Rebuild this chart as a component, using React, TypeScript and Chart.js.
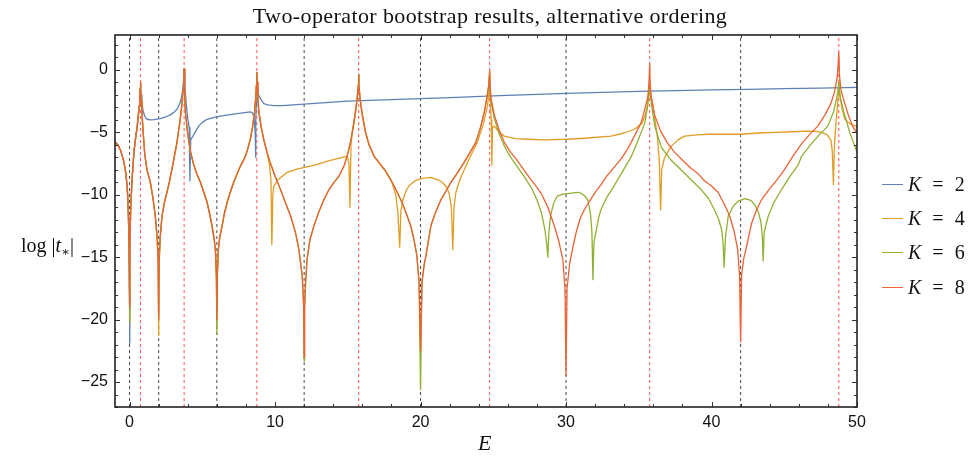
import { useEffect, useRef } from "react";
import { Chart, registerables } from "chart.js";

Chart.register(...registerables);

type P = [number, number];

// ---------- axis settings ----------
const xMin = -1;
const xMax = 50;
const yMin = -27;
const yMax = 2.8;
const xTicks = [0, 10, 20, 30, 40, 50];
const xMinorTicks = [2, 4, 6, 8, 12, 14, 16, 18, 22, 24, 26, 28, 32, 34, 36, 38, 42, 44, 46, 48];
const yTicks = [-25, -20, -15, -10, -5, 0];
const yMinorTicks = [-27, -26, -24, -23, -22, -21, -19, -18, -17, -16, -14, -13, -12, -11, -9, -8, -7, -6, -4, -3, -2, -1, 1, 2];

// vertical reference lines
const zeroLines = [0, 2, 6, 12, 20, 30, 42];
const poleLines = [0.75, 3.75, 8.75, 15.75, 24.75, 35.75, 48.75];

// ---------- legend ----------
const seriesNames = ["2", "4", "6", "8"];
const seriesColors = ["#5E81B5", "#E19C24", "#8FB032", "#EB6235"];

// ---------- shared curve pieces (all K overlap here) ----------
const segA: P[] = [[-1, -5.8], [-0.8, -6.0], [-0.6, -6.5], [-0.4, -7.3], [-0.25, -8.3], [-0.15, -9.6], [-0.08, -11.5], [-0.03, -14.5]];
const segB: P[] = [[0.03, -14.5], [0.08, -11.0], [0.17, -8.8], [0.3, -6.6], [0.42, -5.4], [0.51, -4.7], [0.6, -3.7], [0.66, -2.9], [0.7, -2.1], [0.73, -1.5], [0.75, -1.0]];
const segC: P[] = [[0.77, -1.6], [0.8, -2.5], [0.85, -3.4], [0.96, -5.4], [1.05, -6.8], [1.2, -8.0], [1.43, -9.0], [1.6, -10.2], [1.77, -11.7], [1.9, -13.5], [1.97, -15.5]];
const segD: P[] = [[2.03, -15.5], [2.1, -13.5], [2.23, -11.7], [2.4, -10.6], [2.57, -9.8], [2.75, -8.9], [2.92, -7.9], [3.1, -6.8], [3.26, -5.8], [3.38, -4.8], [3.5, -3.8], [3.61, -2.6], [3.68, -1.6], [3.73, -0.6], [3.75, 0.1]];
const segE: P[] = [[3.77, -0.8], [3.8, -2.0], [3.84, -3.4], [3.95, -4.6], [4.06, -5.6], [4.2, -6.6], [4.41, -7.6], [4.65, -8.4], [4.87, -9.0], [5.1, -9.8], [5.33, -10.6], [5.5, -11.5], [5.67, -12.5], [5.82, -13.6], [5.9, -14.4], [5.97, -16.5]];
const segF: P[] = [[6.03, -16.5], [6.1, -14.4], [6.2, -13.4], [6.36, -12.5], [6.5, -11.6], [6.71, -10.6], [6.95, -9.7], [7.16, -9.0], [7.4, -8.3], [7.62, -7.7], [7.85, -7.2], [8.0, -6.8], [8.15, -6.2], [8.31, -5.5], [8.45, -4.6], [8.59, -3.4], [8.67, -2.3], [8.72, -1.2], [8.75, -0.2]];
const segG: P[] = [[8.77, -1.0], [8.82, -2.3], [8.89, -3.4], [9.05, -4.6], [9.23, -5.6], [9.45, -6.6], [9.69, -7.5], [10.0, -8.5], [10.38, -9.6], [10.7, -10.6], [11.07, -11.7], [11.4, -13.0], [11.64, -14.4], [11.87, -16.5], [11.97, -19]];
const segH: P[] = [[12.03, -19], [12.1, -17], [12.2, -15.2], [12.4, -13.6], [12.67, -12.5], [13.0, -11.4], [13.36, -10.4], [13.7, -9.6], [14.05, -9.0], [14.4, -8.5], [14.74, -7.7], [15.0, -6.7], [15.2, -5.7], [15.43, -4.2], [15.57, -3.0], [15.66, -2.1], [15.72, -1.3], [15.75, -0.35]];
const segI: P[] = [[15.77, -1.2], [15.85, -2.4], [16.0, -3.6], [16.2, -4.9], [16.46, -6.0], [16.8, -6.9], [17.2, -7.5], [17.6, -8.1], [18.0, -8.9], [18.4, -9.8], [18.76, -10.7], [19.05, -11.6], [19.33, -12.5], [19.55, -13.6], [19.75, -14.9], [19.9, -17]];
const segJ: P[] = [[20.1, -17], [20.25, -15.6], [20.37, -14.9], [20.71, -12.5], [21.0, -11.5], [21.4, -10.4], [21.75, -9.7], [22.09, -9.0], [22.5, -8.3], [23.0, -7.4], [23.4, -6.6], [23.8, -5.8], [24.1, -4.7], [24.38, -3.4], [24.55, -2.3], [24.68, -1.3], [24.75, -0.1]];

// ---------- K = 8 ----------
const k8Tail: P[] = [
  [24.78, -1.2], [24.85, -2.3], [25.07, -3.6], [25.4, -4.8], [25.76, -5.8], [26.2, -6.6], [26.68, -7.3], [27.1, -8.0], [27.6, -8.8], [28.0, -9.4], [28.3, -9.9], [28.75, -11.0], [29.2, -12.5], [29.5, -13.7], [29.78, -15.2], [29.93, -17.5], [30.0, -24.5],
  [30.07, -17.5], [30.25, -15.5], [30.47, -14.2], [30.7, -13.0], [31.0, -11.8], [31.4, -10.9], [31.73, -10.3], [32.0, -9.8], [32.4, -9.2], [32.8, -8.5], [33.3, -7.8], [33.8, -7.1], [34.25, -6.3], [34.7, -5.3], [35.17, -4.2], [35.45, -3.0], [35.63, -2.1], [35.7, -1.0], [35.75, 0.5],
  [35.78, -1.0], [35.85, -2.2], [36.09, -3.6], [36.5, -4.9], [37.0, -5.9], [37.47, -6.6], [38.15, -7.4], [38.6, -7.9], [39.07, -8.3], [39.53, -8.9], [40.0, -9.3], [40.45, -9.8], [40.9, -10.8], [41.25, -11.7], [41.55, -12.9], [41.8, -14.4], [41.93, -16.5], [42.0, -21.8],
  [42.07, -16.5], [42.2, -15.2], [42.4, -14.2], [42.75, -12.3], [43.1, -11.2], [43.44, -10.4], [44.0, -9.5], [44.5, -8.8], [45.0, -8.0], [45.6, -6.9], [46.2, -5.9], [46.8, -5.1], [47.3, -4.5], [47.8, -3.6], [48.2, -2.7], [48.45, -1.8], [48.65, -0.5], [48.75, 1.4],
  [48.8, -0.5], [48.9, -1.6], [49.06, -2.3], [49.4, -3.6], [49.7, -4.5], [50, -5.1],
];
const k8: P[] = [...segA, [0, -19], ...segB, ...segC, [2, -20], ...segD, ...segE, [6, -20], ...segF, ...segG, [12, -23], ...segH, ...segI, [20, -22.5], ...segJ, ...k8Tail];

// ---------- K = 6 ----------
const k6Tail: P[] = [
  [24.78, -1.5], [24.85, -2.6], [25.07, -3.9], [25.4, -5.1], [25.76, -6.1], [26.2, -7.0], [26.68, -7.8], [27.1, -8.5], [27.6, -9.4], [28.0, -10.4], [28.3, -11.4], [28.55, -12.8], [28.68, -14.0], [28.75, -15.0],
  [28.82, -13.0], [28.95, -11.6], [29.15, -10.7], [29.4, -10.1], [29.8, -9.95], [30.1, -9.9], [30.5, -9.85], [30.9, -9.8], [31.2, -10.0], [31.5, -10.4], [31.68, -11.5], [31.78, -13.0], [31.85, -16.8],
  [31.92, -13.8], [32.07, -12.9], [32.25, -11.8], [32.4, -11.2], [32.8, -10.2], [33.3, -9.3], [33.9, -8.1], [34.5, -6.9], [34.9, -5.8], [35.2, -4.9], [35.4, -4.3], [35.6, -3.0], [35.75, -1.5],
  [35.9, -3.0], [36.1, -4.5], [36.55, -6.2], [37.2, -7.2], [37.9, -8.0], [38.6, -8.8], [39.3, -9.6], [39.8, -10.3], [40.2, -11.2], [40.5, -12.0], [40.7, -12.8], [40.8, -14.0], [40.87, -15.8],
  [40.95, -13.5], [41.15, -11.7], [41.5, -10.9], [41.84, -10.5], [42.3, -10.3], [42.7, -10.45], [42.97, -10.8], [43.2, -11.3], [43.4, -12.2], [43.5, -13.5], [43.55, -15.3],
  [43.62, -13.0], [43.9, -11.7], [44.3, -10.6], [44.8, -9.6], [45.4, -8.5], [45.96, -7.6], [46.2, -6.9], [46.8, -6.0], [47.4, -5.2], [48.0, -4.5], [48.4, -3.3], [48.65, -2.0], [48.75, -1.0],
  [48.85, -2.2], [49.1, -3.4], [49.5, -5.0], [50, -6.6],
];
const k6: P[] = [...segA, [0, -20.3], ...segB, ...segC, [2, -20], ...segD, ...segE, [6, -21.2], ...segF, ...segG, [12, -23.3], ...segH, ...segI, [20, -25.6], ...segJ, ...k6Tail];

// ---------- K = 4 ----------
const k4Tail: P[] = [
  [8.77, -1.0], [8.82, -2.3], [8.89, -3.4], [9.05, -4.6], [9.23, -5.6], [9.45, -6.6], [9.62, -7.6], [9.72, -8.8], [9.78, -14.0],
  [9.85, -10.0], [9.92, -9.3], [10.2, -8.8], [10.84, -8.2], [11.5, -7.95], [12.03, -7.8], [12.8, -7.6], [13.6, -7.3], [14.3, -7.1], [14.97, -6.9], [15.08, -7.5], [15.15, -11.0],
  [15.22, -6.0], [15.35, -4.6], [15.5, -3.5], [15.62, -2.5], [15.7, -1.6], [15.75, -0.6],
  [15.77, -1.2], [15.85, -2.4], [16.0, -3.6], [16.2, -4.9], [16.46, -6.0], [16.8, -6.9], [17.2, -7.5], [17.6, -8.1], [18.0, -8.9], [18.3, -10.0], [18.45, -11.5], [18.57, -14.2],
  [18.65, -11.3], [18.76, -10.5], [19.0, -9.7], [19.2, -9.3], [19.6, -8.9], [20.0, -8.7], [20.7, -8.6], [21.2, -8.8], [21.5, -9.0], [21.8, -9.4], [21.97, -9.9], [22.12, -11.0], [22.22, -14.4],
  [22.3, -11.0], [22.43, -9.8], [22.7, -8.8], [23.0, -8.0], [23.4, -7.0], [23.9, -5.8], [24.3, -4.4], [24.6, -2.9], [24.7, -1.8], [24.75, -0.5],
  [24.8, -2.8], [24.86, -4.0], [24.9, -7.6], [24.95, -4.6], [25.07, -4.5], [25.4, -5.0], [25.76, -5.3], [26.5, -5.5], [27.37, -5.55], [28.5, -5.6], [30.1, -5.55], [31.5, -5.45], [33.1, -5.3], [34.0, -5.05], [34.7, -4.75], [35.2, -4.3], [35.45, -3.6], [35.6, -2.8], [35.7, -1.8], [35.75, -0.8],
  [35.8, -1.8], [35.98, -2.9], [36.15, -4.3], [36.3, -5.55], [36.42, -7.5], [36.5, -11.2],
  [36.58, -8.0], [36.75, -7.1], [36.97, -6.6], [37.24, -6.1], [37.7, -5.6], [38.15, -5.3], [39.0, -5.2], [39.77, -5.15], [41.0, -5.15], [42.06, -5.15], [43.2, -5.05], [44.35, -5.0], [45.5, -4.95], [46.65, -4.9], [47.2, -4.92], [47.57, -5.0], [47.95, -5.2], [48.2, -5.6], [48.3, -6.5], [48.38, -9.2],
  [48.45, -6.0], [48.55, -4.3], [48.65, -3.0], [48.72, -1.8], [48.75, -0.8],
  [48.8, -1.8], [48.95, -3.0], [49.17, -3.95], [49.5, -4.3], [49.86, -4.5], [50, -4.5],
];
const k4: P[] = [...segA, [0, -20], ...segB, ...segC, [2, -21.3], ...segD, ...segE, [6, -20.5], ...segF, ...k4Tail];

// ---------- K = 2 ----------
const k2Tail: P[] = [
  [0.77, -1.5], [0.8, -2.0], [0.85, -2.6], [0.92, -3.2], [1.0, -3.55], [1.08, -3.8], [1.2, -3.95], [1.43, -4.0], [1.7, -3.98], [2.11, -3.9], [2.5, -3.75], [2.8, -3.6], [3.05, -3.4], [3.26, -3.15], [3.45, -2.7], [3.54, -2.35], [3.63, -1.8], [3.7, -1.0], [3.75, 0.0],
  [3.8, -1.2], [3.9, -2.8], [4.0, -3.9], [4.1, -4.6], [4.15, -8.9], [4.2, -5.6], [4.3, -5.4], [4.41, -5.2], [4.55, -4.9], [4.75, -4.5], [5.0, -4.2], [5.33, -3.95], [5.8, -3.8], [6.25, -3.7], [6.8, -3.6], [7.4, -3.5], [7.9, -3.42], [8.31, -3.35], [8.45, -3.45], [8.54, -3.7], [8.6, -4.3], [8.64, -5.2], [8.66, -7.0],
  [8.69, -4.0], [8.72, -2.5], [8.75, -0.8], [8.8, -1.5], [8.88, -2.0], [8.95, -2.2], [9.1, -2.5], [9.23, -2.7], [9.5, -2.8], [9.92, -2.85], [10.5, -2.85], [11.76, -2.75], [13.0, -2.65], [15.0, -2.5], [17.5, -2.4], [20.0, -2.3], [22.5, -2.2], [25.0, -2.08], [27.5, -1.98], [30.0, -1.88], [32.5, -1.8], [35.0, -1.72], [37.5, -1.65], [40.0, -1.6], [42.5, -1.55], [45.0, -1.5], [47.5, -1.45], [50.0, -1.4],
];
const k2: P[] = [...segA, [0, -21.9], ...segB, ...k2Tail];

const seriesData: P[][] = [k2, k4, k6, k8];

const fmt = (v: number) => String(v).replace("-", "\u2212");

const frameTicks = {
  id: "frameTicks",
  afterDraw(chart: any) {
    const { ctx, chartArea: a, scales } = chart;
    const x = scales.x;
    const y = scales.y;
    ctx.save();
    ctx.strokeStyle = "#333";
    ctx.lineWidth = 1;
    const seg = (x1: number, y1: number, x2: number, y2: number) => {
      ctx.beginPath();
      ctx.moveTo(x1, y1);
      ctx.lineTo(x2, y2);
      ctx.stroke();
    };
    const xt = (v: number, len: number) => {
      const p = Math.round(x.getPixelForValue(v)) + 0.5;
      seg(p, a.bottom, p, a.bottom - len);
      seg(p, a.top, p, a.top + len);
    };
    const yt = (v: number, len: number) => {
      const p = Math.round(y.getPixelForValue(v)) + 0.5;
      seg(a.left, p, a.left + len, p);
      seg(a.right, p, a.right - len, p);
    };
    xTicks.forEach((v) => xt(v, 5));
    xMinorTicks.forEach((v) => xt(v, 3));
    yTicks.forEach((v) => yt(v, 5));
    yMinorTicks.forEach((v) => yt(v, 3));
    ctx.strokeStyle = "#222";
    ctx.lineWidth = 1.6;
    ctx.strokeRect(a.left, a.top, a.right - a.left, a.bottom - a.top);
    ctx.restore();
  },
};

const serif = "'Liberation Serif', 'DejaVu Serif', serif";

export default function App() {
  const ref = useRef<HTMLCanvasElement>(null);

  useEffect(() => {
    const datasets: any[] = [];
    seriesData.forEach((d, i) => {
      datasets.push({
        label: "K = " + seriesNames[i],
        data: d.map(([x, y]) => ({ x, y })),
        borderColor: seriesColors[i],
        borderWidth: 1.3,
        borderJoinStyle: "round",
        pointRadius: 0,
        tension: 0,
        fill: false,
        order: 4 - i,
      });
    });
    zeroLines.forEach((v) => {
      datasets.push({
        label: "zero",
        data: [{ x: v, y: yMin }, { x: v, y: yMax }],
        borderColor: "rgba(40,40,40,0.85)",
        borderWidth: 1,
        borderDash: [3, 3],
        pointRadius: 0,
        order: 10,
      });
    });
    poleLines.forEach((v) => {
      datasets.push({
        label: "pole",
        data: [{ x: v, y: yMin }, { x: v, y: yMax }],
        borderColor: "rgba(255,50,50,0.85)",
        borderWidth: 1,
        borderDash: [3, 3],
        pointRadius: 0,
        order: 10,
      });
    });

    const chart = new Chart(ref.current!, {
      type: "line",
      data: { datasets },
      plugins: [frameTicks],
      options: {
        animation: false,
        responsive: false,
        devicePixelRatio: 1,
        layout: { padding: { left: 0, top: 35, right: 115, bottom: 0 } },
        plugins: { legend: { display: false }, tooltip: { enabled: false }, title: { display: false } },
        scales: {
          x: {
            type: "linear",
            min: xMin,
            max: xMax,
            afterBuildTicks: (s: any) => {
              s.ticks = xTicks.map((v) => ({ value: v }));
            },
            afterFit: (s: any) => {
              s.height = 49;
            },
            grid: { display: false, drawTicks: false },
            border: { display: false },
            ticks: {
              padding: 6,
              color: "#111",
              font: { family: "'Liberation Sans', Arial, sans-serif", size: 16 },
              callback: (v: any) => fmt(Number(v)),
              maxRotation: 0,
              autoSkip: false,
            },
          },
          y: {
            type: "linear",
            min: yMin,
            max: yMax,
            afterBuildTicks: (s: any) => {
              s.ticks = yTicks.map((v) => ({ value: v }));
            },
            afterFit: (s: any) => {
              s.width = 115;
            },
            grid: { display: false, drawTicks: false },
            border: { display: false },
            ticks: {
              padding: 7,
              color: "#111",
              font: { family: "'Liberation Sans', Arial, sans-serif", size: 16 },
              callback: (v: any) => fmt(Number(v)),
              autoSkip: false,
            },
          },
        },
      } as any,
    });
    return () => chart.destroy();
  }, []);

  return (
    <div style={{ position: "absolute", left: 0, top: 0, width: 972, height: 456, background: "#fff", overflow: "hidden" }}>
      <canvas ref={ref} width={972} height={456} style={{ position: "absolute", left: 0, top: 0, width: 972, height: 456 }} />
      <div
        style={{
          position: "absolute",
          left: 490,
          top: 5,
          transform: "translateX(-50%)",
          whiteSpace: "nowrap",
          fontFamily: serif,
          fontSize: 22,
          letterSpacing: "0.4px",
          lineHeight: "22px",
          color: "#111",
        }}
      >
        Two-operator bootstrap results, alternative ordering
      </div>
      <div
        style={{
          position: "absolute",
          left: 21,
          top: 233,
          whiteSpace: "nowrap",
          fontFamily: serif,
          fontSize: 20,
          lineHeight: "24px",
          color: "#111",
        }}
      >
        log <span>|</span>
        <i>t</i>
        <sub style={{ fontSize: 13, verticalAlign: "-4px" }}>∗</sub>
        <span>|</span>
      </div>
      <div
        style={{
          position: "absolute",
          left: 478,
          top: 431,
          fontFamily: serif,
          fontStyle: "italic",
          fontSize: 22,
          lineHeight: "24px",
          color: "#111",
        }}
      >
        E
      </div>
      {seriesNames.map((n, i) => (
        <div key={n} style={{ position: "absolute", left: 882, top: Math.round(183.5 + i * 34.4) - 12, height: 24, width: 90 }}>
          <div style={{ position: "absolute", left: 0, top: 12, width: 21, height: 1, background: seriesColors[i] }} />
          <div
            style={{
              position: "absolute",
              left: 26,
              top: 0,
              whiteSpace: "nowrap",
              fontFamily: serif,
              fontSize: 20,
              lineHeight: "24px",
              color: "#111",
            }}
          >
            <i>K</i>
            <span style={{ margin: "0 11px" }}>=</span>
            {n}
          </div>
        </div>
      ))}
    </div>
  );
}
